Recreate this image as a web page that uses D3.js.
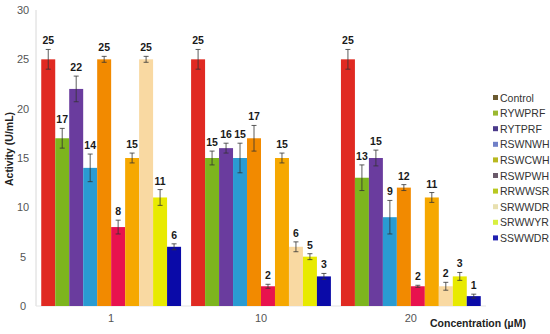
<!DOCTYPE html>
<html>
<head>
<meta charset="utf-8">
<script src="https://cdn.jsdelivr.net/npm/d3@7"></script>
<style>
  body { margin: 0; background: #fff; }
  svg { display: block; font-family: "Liberation Sans", Arial, sans-serif; }
</style>
</head>
<body>
<svg width="550" height="334"></svg>
<script>
// data
var concentrations = ["1", "10", "20"];
var peptides = ["Control", "RYWPRF", "RYTPRF", "RSWNWH", "RSWCWH", "RSWPWH", "RRWWSR", "SRWWDR", "SRWWYR", "SSWWDR"];
var values1  = [25, 17, 22, 14, 25, 8, 15, 25, 11, 6];
var values10 = [25, 15, 16, 15, 17, 2, 15, 6, 5, 3];
var values20 = [25, 13, 15, 9, 12, 2, 11, 2, 3, 1];
var err1  = [1.0, 1.0, 1.3, 1.4, 0.3, 0.7, 0.5, 0.3, 0.8, 0.3];
var err10 = [1.0, 0.7, 0.5, 1.5, 1.3, 0.2, 0.5, 0.5, 0.3, 0.3];
var err20 = [1.0, 1.3, 0.8, 1.7, 0.3, 0.1, 0.5, 0.4, 0.4, 0.2];
var yTicks = [0, 5, 10, 15, 20, 25, 30];

// bar fills and (oddly different) legend swatches, as in the original
var barColors = ["#e02a22", "#7db51e", "#6a3c9e", "#2a9bd2", "#f28a00", "#e8124e", "#f6a800", "#f9d9a2", "#e8ea00", "#0a0aa8"];
var legendColors = ["#6b5a30", "#9ab830", "#4a3a8a", "#7080c8", "#b8b820", "#6a5a6a", "#b8c820", "#e8e0b0", "#d8f040", "#2020b0"];

var allValues = [values1, values10, values20];
var allErr = [err1, err10, err20];

var svg = d3.select("svg");

var x0 = d3.scaleBand()
    .domain(concentrations)
    .range([36, 486])
    .paddingInner(0.067)
    .paddingOuter(0.035);

var x1 = d3.scaleBand()
    .domain(peptides)
    .range([0, x0.bandwidth()]);

var y = d3.scaleLinear()
    .domain([0, 30])
    .range([306, 10]);

// y axis
svg.append("line")
    .attr("x1", 36).attr("x2", 36)
    .attr("y1", y(30)).attr("y2", y(0))
    .attr("stroke", "#d8d8d8");
svg.append("line")
    .attr("x1", 36).attr("x2", 486)
    .attr("y1", y(0)).attr("y2", y(0))
    .attr("stroke", "#e4e4e4");

svg.selectAll(".ytick")
    .data(yTicks)
    .enter().append("text")
    .attr("class", "ytick")
    .attr("x", 23)
    .attr("y", function(d) { return y(d) + 4; })
    .attr("text-anchor", "middle")
    .attr("font-size", 11)
    .attr("fill", "#555")
    .text(function(d) { return d; });

svg.append("text")
    .attr("transform", "translate(13,149) rotate(-90)")
    .attr("text-anchor", "middle")
    .attr("font-size", 10.5)
    .attr("font-weight", "bold")
    .attr("fill", "#222")
    .text("Activity  (U/mL)");

// groups
var group = svg.selectAll(".group")
    .data(concentrations)
    .enter().append("g")
    .attr("class", "group")
    .attr("transform", function(d) { return "translate(" + x0(d) + ",0)"; });

var rows = function(c, i) {
    return peptides.map(function(p, j) {
        return { name: p, idx: j, v: allValues[i][j], e: allErr[i][j] };
    });
};

var bar = group.selectAll(".bar")
    .data(rows)
    .enter().append("g")
    .attr("class", "bar");

bar.append("rect")
    .attr("x", function(d) { return x1(d.name); })
    .attr("width", x1.bandwidth())
    .attr("y", function(d) { return y(d.v); })
    .attr("height", function(d) { return y(0) - y(d.v); })
    .attr("fill", function(d) { return barColors[d.idx]; });

// error bars
var cx = function(d) { return x1(d.name) + x1.bandwidth() / 2; };
bar.append("line")
    .attr("x1", cx).attr("x2", cx)
    .attr("y1", function(d) { return y(d.v + d.e); })
    .attr("y2", function(d) { return y(d.v - d.e); })
    .attr("stroke", "#333").attr("stroke-width", 0.8);
bar.append("line")
    .attr("x1", function(d) { return cx(d) - 2.5; })
    .attr("x2", function(d) { return cx(d) + 2.5; })
    .attr("y1", function(d) { return y(d.v + d.e); })
    .attr("y2", function(d) { return y(d.v + d.e); })
    .attr("stroke", "#333").attr("stroke-width", 0.8);
bar.append("line")
    .attr("x1", function(d) { return cx(d) - 2.5; })
    .attr("x2", function(d) { return cx(d) + 2.5; })
    .attr("y1", function(d) { return y(d.v - d.e); })
    .attr("y2", function(d) { return y(d.v - d.e); })
    .attr("stroke", "#333").attr("stroke-width", 0.8);

// value labels
bar.append("text")
    .attr("x", cx)
    .attr("y", function(d) { return y(d.v + d.e) - 5; })
    .attr("text-anchor", "middle")
    .attr("font-size", 10.5)
    .attr("font-weight", "bold")
    .attr("fill", "#1a1a1a")
    .text(function(d) { return d.v; });

// x tick labels
svg.selectAll(".xtick")
    .data(concentrations)
    .enter().append("text")
    .attr("class", "xtick")
    .attr("x", function(d) { return x0(d) + x0.bandwidth() / 2; })
    .attr("y", 322)
    .attr("text-anchor", "middle")
    .attr("font-size", 11)
    .attr("fill", "#555")
    .text(function(d) { return d; });

svg.append("text")
    .attr("x", 430)
    .attr("y", 327)
    .attr("font-size", 10.5)
    .attr("font-weight", "bold")
    .attr("fill", "#222")
    .text("Concentration (\u00b5M)");

// legend
var legend = svg.selectAll(".legend")
    .data(peptides)
    .enter().append("g")
    .attr("class", "legend")
    .attr("transform", function(d, i) { return "translate(493," + (98 + i * 15.6) + ")"; });

legend.append("rect")
    .attr("x", 0).attr("y", -3)
    .attr("width", 5).attr("height", 5)
    .attr("fill", function(d, i) { return legendColors[i]; });

legend.append("text")
    .attr("x", 7)
    .attr("y", 3.5)
    .attr("font-size", 10.5)
    .attr("fill", "#333")
    .text(function(d) { return d; });
</script>
</body>
</html>
